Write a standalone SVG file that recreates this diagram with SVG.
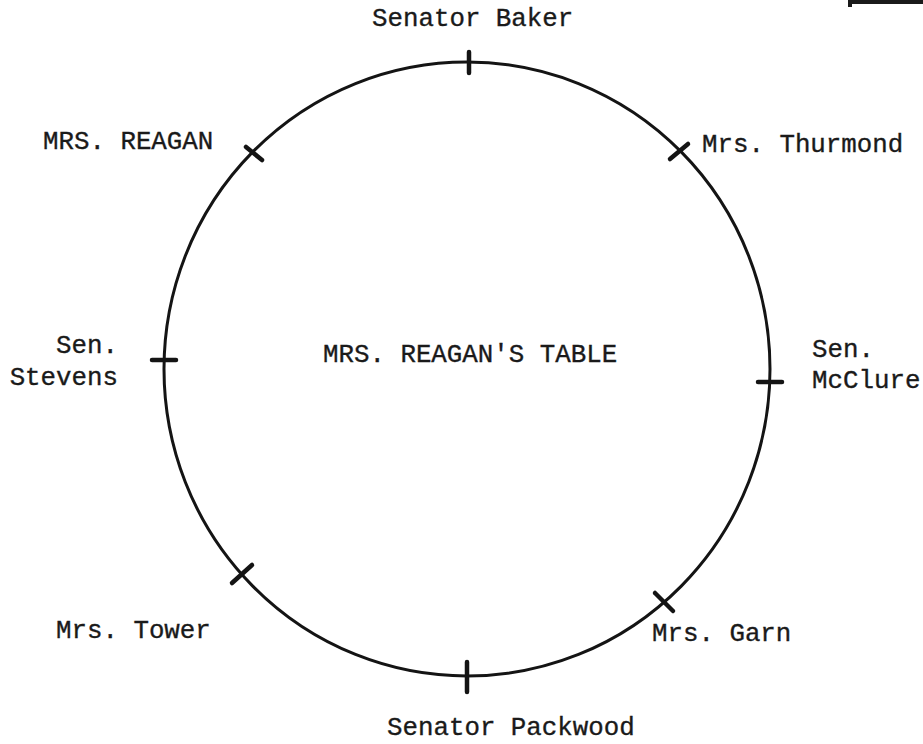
<svg xmlns="http://www.w3.org/2000/svg" width="923" height="744" viewBox="0 0 923 744">
<style>
text{font-family:"Liberation Mono","Courier New",monospace;font-size:25.8px;fill:#1a1a1a;stroke:#1a1a1a;stroke-width:0.35}
.table{fill:none;stroke:#141414;stroke-width:3}
.tick{stroke:#141414;stroke-width:4.5;stroke-linecap:round}
</style>
<rect width="923" height="744" fill="#ffffff"/>
<g id="corner-mark">
<rect x="848" y="0" width="75" height="4" fill="#1a1a1a"/>
<rect x="848" y="0" width="4" height="7" fill="#1a1a1a"/>
</g>
<g id="table">
<ellipse class="table" cx="467" cy="369" rx="303" ry="307"/>
<text x="323" y="362">MRS. REAGAN'S TABLE</text>
</g>
<g id="connectors">
<line class="tick" x1="469" y1="52" x2="469" y2="73"/>
<line class="tick" x1="670" y1="159" x2="688" y2="144"/>
<line class="tick" x1="758" y1="382" x2="782" y2="382"/>
<line class="tick" x1="655" y1="593" x2="673" y2="611"/>
<line class="tick" x1="467" y1="662" x2="467" y2="692"/>
<line class="tick" x1="232" y1="583" x2="252" y2="565"/>
<line class="tick" x1="152" y1="360" x2="176" y2="360"/>
<line class="tick" x1="246" y1="147" x2="262" y2="160"/>
</g>
<g id="senator-baker"><text x="372" y="26">Senator Baker</text></g>
<g id="mrs-thurmond"><text x="702" y="152">Mrs. Thurmond</text></g>
<g id="sen-mcclure"><text x="812" y="357">Sen.</text><text x="812" y="388">McClure</text></g>
<g id="mrs-garn"><text x="652" y="641">Mrs. Garn</text></g>
<g id="senator-packwood"><text x="387" y="735">Senator Packwood</text></g>
<g id="mrs-tower"><text x="56" y="638">Mrs. Tower</text></g>
<g id="sen-stevens"><text x="118" y="353" text-anchor="end">Sen.</text><text x="118" y="385" text-anchor="end">Stevens</text></g>
<g id="mrs-reagan"><text x="43" y="149">MRS. REAGAN</text></g>
</svg>
